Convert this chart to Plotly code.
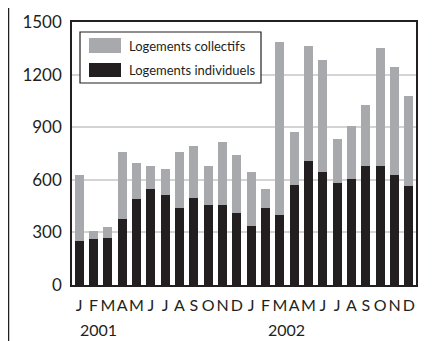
import plotly.graph_objects as go

months = ["J", "F", "M", "A", "M", "J", "J", "A", "S", "O", "N", "D",
          "J", "F", "M", "A", "M", "J", "J", "A", "S", "O", "N", "D"]
years = ["2001", "2002"]
individuels = [249, 260, 268, 376, 488, 550, 516, 437, 499, 454, 454, 408,
               334, 437, 402, 573, 710, 647, 579, 607, 681, 676, 630, 562]
collectifs = [376, 46, 60, 385, 210, 126, 143, 324, 296, 222, 364, 336,
              313, 112, 985, 302, 655, 638, 256, 302, 348, 677, 615, 518]
y_ticks = [0, 300, 600, 900, 1200, 1500]
names = ["Logements collectifs", "Logements individuels"]

GREY = "#a7a9ac"
BLACK = "#231f20"
FONT = "Lato"

# page is rendered with an 8px body margin; compensate
OFF = 8
PW, PH = 432, 341
W, H = PW - OFF, PH - OFF
L, R, T, B = 72 - OFF, 16, 22 - OFF, 56
pw, ph = W - L - R, H - T - B

def px(x):  # page pixel -> paper
    return (x - 72) / pw

def py(y):
    return (22 + ph - y) / ph

xs = list(range(len(months)))

fig = go.Figure()
fig.add_trace(go.Bar(x=xs, y=individuels, name=names[1], marker_color=BLACK,
                     marker_line_width=0, showlegend=False))
fig.add_trace(go.Bar(x=xs, y=collectifs, name=names[0], marker_color=GREY,
                     marker_line_width=0, showlegend=False))

shapes = []
annotations = []
# outer left border line
shapes.append(dict(type="line", xref="paper", yref="paper", x0=px(8.5), x1=px(8.5),
                   y0=py(0), y1=py(345), line=dict(color=BLACK, width=1.5)))
# legend box
shapes.append(dict(type="rect", xref="paper", yref="paper", x0=px(80), x1=px(261),
                   y0=py(32), y1=py(83), fillcolor="white",
                   line=dict(color=BLACK, width=1.2), layer="above"))
for i, (col, top, bot) in enumerate([(GREY, 38, 53), (BLACK, 63, 77)]):
    shapes.append(dict(type="rect", xref="paper", yref="paper", x0=px(89), x1=px(121),
                       y0=py(bot), y1=py(top), fillcolor=col, line=dict(width=0),
                       layer="above"))
    annotations.append(dict(xref="paper", yref="paper", x=px(127), y=py((top + bot) / 2),
                            text=names[i], showarrow=False, xanchor="left", yanchor="middle",
                            font=dict(family=FONT, size=13, color=BLACK)))
# year labels
for yr, xpix in zip(years, [78, 266]):
    annotations.append(dict(xref="paper", yref="paper", x=px(xpix), y=py(329),
                            text=yr, showarrow=False, xanchor="left", yanchor="middle",
                            font=dict(family=FONT, size=16, color=BLACK)))

fig.update_layout(
    width=W, height=H,
    margin=dict(l=L, r=R, t=T, b=B, autoexpand=False),
    paper_bgcolor="white", plot_bgcolor="white",
    barmode="stack", bargap=0.37,
    showlegend=False,
    shapes=shapes, annotations=annotations,
    font=dict(family=FONT, color=BLACK),
)
fig.update_xaxes(range=[-0.5, len(months) - 0.5], tickmode="array", tickvals=xs,
                 ticktext=months, tickfont=dict(size=16, family=FONT, color=BLACK),
                 tickangle=0,
                 showline=True, linecolor=BLACK, linewidth=2, mirror=True,
                 showgrid=False, ticks="", ticklabelstandoff=5)
fig.update_yaxes(range=[0, 1500], tickmode="array", tickvals=y_ticks,
                 tickfont=dict(size=17, family=FONT, color=BLACK),
                 showline=True, linecolor=BLACK, linewidth=1.5, mirror=True,
                 showgrid=True, gridcolor="#d4d4d4", gridwidth=2,
                 ticks="", ticklabelstandoff=5, zeroline=False)

fig.write_html("out.html")
